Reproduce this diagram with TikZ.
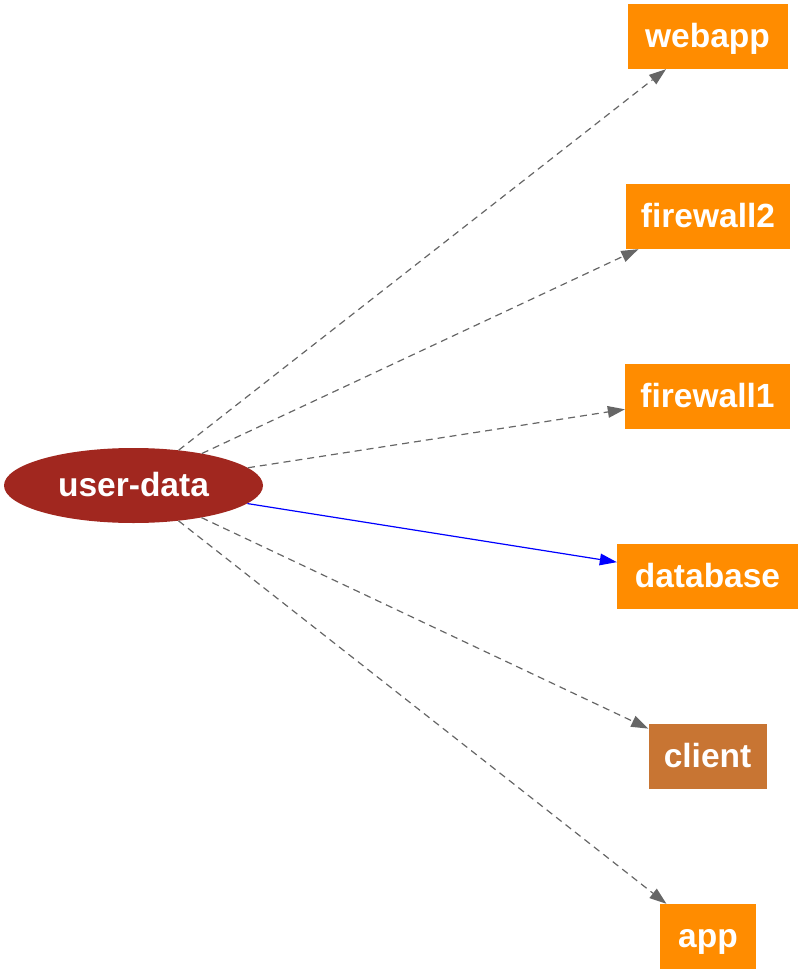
\documentclass[tikz,border=0pt]{standalone}
\usepackage{fontspec}
\setmainfont{Liberation Sans}
\usetikzlibrary{arrows.meta,shapes.geometric}
\definecolor{boxorange}{HTML}{FF8C00}
\definecolor{clientbrown}{HTML}{C87533}
\definecolor{udred}{HTML}{A1271F}
\definecolor{edgegray}{HTML}{666666}
\begin{document}
\begin{tikzpicture}[x=1pt,y=-1pt,
  lbl/.style={text=white,font=\fontsize{33.5}{40}\selectfont\bfseries,inner sep=0pt,text height=29pt,text depth=7pt,minimum height=65pt},
  box/.style={lbl,rectangle,fill=boxorange},
  ell/.style={lbl,ellipse,fill=udred,minimum width=259pt,minimum height=75pt},
  dep/.style={draw=edgegray,line width=1.2pt,dash pattern=on 7pt off 5pt,-{Triangle[length=17pt,width=12pt,fill=edgegray,line width=0pt]}},
  main/.style={draw=blue,line width=1.2pt,-{Triangle[length=17pt,width=12pt,fill=blue,line width=0pt]}}]
\useasboundingbox (0,0) rectangle (802,973);
\node[ell] (ud) at (133.5,485.5) {user-data};
\node[box,minimum width=160pt] (webapp) at (707.5,36.5) {webapp};
\node[box,minimum width=164pt] (fw2) at (708,216.5) {firewall2};
\node[box,minimum width=165pt] (fw1) at (707.5,396.5) {firewall1};
\node[box,minimum width=181pt] (db) at (707.5,576.5) {database};
\node[box,fill=clientbrown,minimum width=118pt] (client) at (707.5,756.5) {client};
\node[box,minimum width=96pt] (app) at (708,936.5) {app};
\draw[dep] (ud) -- (webapp);
\draw[dep] (ud) -- (fw2);
\draw[dep] (ud) -- (fw1);
\draw[main] (ud) -- (db);
\draw[dep] (ud) -- (client);
\draw[dep] (ud) -- (app);
\end{tikzpicture}
\end{document}
